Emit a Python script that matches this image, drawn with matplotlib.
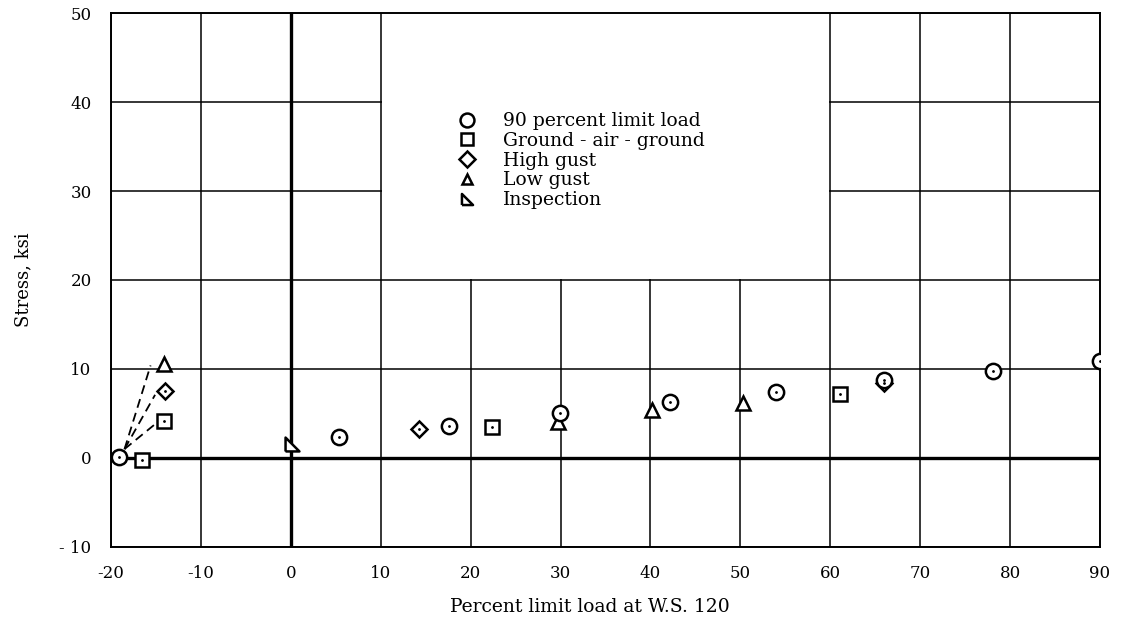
import matplotlib
matplotlib.use("Agg")
import matplotlib.pyplot as plt
from matplotlib.lines import Line2D
from matplotlib.patches import Rectangle

plt.rcParams['font.family'] = ['DejaVu Serif']

# ---- data ----
circle_x = [-19.1, 5.4, 17.6, 29.9, 42.2, 54.0, 66.0, 78.1, 90.0]
circle_y = [0.1, 2.4, 3.6, 5.0, 6.3, 7.4, 8.8, 9.8, 10.9]

square_x = [-16.5, -14.1, 22.4, 61.1]
square_y = [-0.2, 4.2, 3.5, 7.2]

diamond_x = [-14.0, 14.3, 66.0]
diamond_y = [7.5, 3.3, 8.4]

lowgust_x = [-14.1, 29.7, 40.2, 50.3]
lowgust_y = [10.6, 4.0, 5.4, 6.2]

inspect_x = [0.1]
inspect_y = [1.6]

# leader (dashed) lines: start point and end points
leader_start = (-18.5, 1.0)
leader_end_x = [-15.6, -15.1, -15.1]
leader_end_y = [10.4, 7.1, 3.8]

labels = ["90 percent limit load", "Ground - air - ground", "High gust",
          "Low gust", "Inspection"]

xticks = [-20, -10, 0, 10, 20, 30, 40, 50, 60, 70, 80, 90]
xticklabels = ["-20", "-10", "0", "10", "20", "30", "40", "50", "60", "70", "80", "90"]
yticks = [-10, 0, 10, 20, 30, 40, 50]
yticklabels = ["- 10", "0", "10", "20", "30", "40", "50"]

RT = [(-1, -1), (-1, 1), (1, -1), (-1, -1)]

# ---- figure ----
fig = plt.figure(figsize=(11.26, 6.29), dpi=100)
ax = fig.add_axes([0.0986, 0.1304, 0.8783, 0.8489])
ax.set_xlim(-20, 90)
ax.set_ylim(-10, 50)

ax.set_xticks(xticks)
ax.set_xticklabels(xticklabels)
ax.set_yticks(yticks)
ax.set_yticklabels(yticklabels)
ax.tick_params(axis='x', length=0, labelsize=12, pad=13)
ax.tick_params(axis='y', length=0, labelsize=12, pad=14)
ax.grid(True, color='black', linewidth=1.1)
ax.set_axisbelow(True)
for s in ax.spines.values():
    s.set_linewidth(1.4)

# white block hiding grid behind the key
ax.add_patch(Rectangle((10.12, 20.12), 49.76, 29.88, facecolor='white',
                       edgecolor='none', zorder=0.8))

# heavy zero lines
ax.axhline(0, color='black', linewidth=2.4, zorder=1)
ax.axvline(0, color='black', linewidth=2.4, zorder=1)

# leader lines
for ex, ey in zip(leader_end_x, leader_end_y):
    ax.plot([leader_start[0], ex], [leader_start[1], ey], color='black',
            linestyle=(0, (5, 3)), linewidth=1.3, zorder=2)

ms = 11
mew = 1.8
common = dict(linestyle='none', markerfacecolor='white', markeredgecolor='black',
              markeredgewidth=mew, zorder=3)

ax.plot(square_x, square_y, marker='s', markersize=ms - 1, **common)
ax.plot(square_x, square_y, marker='.', markersize=2, color='black', linestyle='none', zorder=4)
ax.plot(diamond_x, diamond_y, marker='D', markersize=ms - 2.5, **common)
ax.plot(diamond_x, diamond_y, marker='.', markersize=2, color='black', linestyle='none', zorder=4)
ax.plot(lowgust_x, lowgust_y, marker='^', markersize=ms - 1, **common)
ax.plot(inspect_x, inspect_y, marker=RT, markersize=ms - 1, **common)
ax.plot(circle_x, circle_y, marker='o', markersize=ms, **common)
ax.plot(circle_x, circle_y, marker='.', markersize=2, color='black', linestyle='none', zorder=4)

# key
kw = dict(linestyle='none', markerfacecolor='white', markeredgecolor='black',
          markeredgewidth=1.8)
handles = [
    Line2D([], [], marker='o', markersize=10, **kw),
    Line2D([], [], marker='s', markersize=9, **kw),
    Line2D([], [], marker='D', markersize=8, **kw),
    Line2D([], [], marker='^', markersize=7, **kw),
    Line2D([], [], marker=RT, markersize=8, **kw),
]
leg = ax.legend(handles, labels, loc='upper left', bbox_to_anchor=(0.343, 0.828),
                frameon=False, fontsize=13.5, handlelength=1.0, handletextpad=1.4,
                labelspacing=0.09, borderaxespad=0)

ax.set_xlabel("Percent limit load at W.S. 120", fontsize=13.5)
ax.xaxis.set_label_coords(0.484, -0.095)
ax.set_ylabel("Stress, ksi", fontsize=13)
ax.yaxis.set_label_coords(-0.08, 0.5)

fig.savefig("out.png", dpi=100)
